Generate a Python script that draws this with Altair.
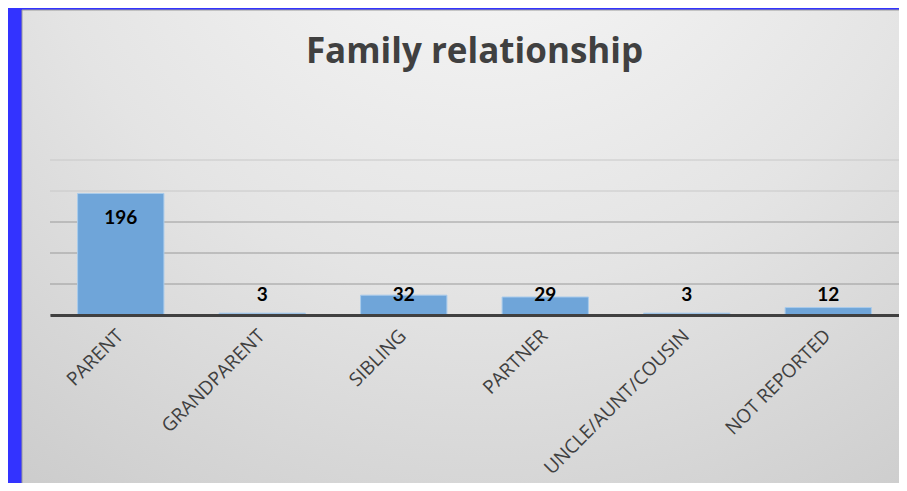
import altair as alt
import pandas as pd

categories = ["PARENT", "GRANDPARENT", "SIBLING", "PARTNER", "UNCLE/AUNT/COUSIN", "NOT REPORTED"]
values = [196, 3, 32, 29, 3, 12]
y_ticks = [0, 50, 100, 150, 200, 250]

df = pd.DataFrame({"category": categories, "value": values})
grid_df = pd.DataFrame({"v": y_ticks})

y_scale = alt.Scale(domain=[0, 250])

panel = alt.Chart(pd.DataFrame({"p": [0]})).mark_rect(
    fill=alt.Gradient(
        gradient="radial",
        stops=[
            alt.GradientStop(color="#fbfbfb", offset=0),
            alt.GradientStop(color="#e4e4e4", offset=0.5),
            alt.GradientStop(color="#c4c4c4", offset=1),
        ],
        x1=0.5, y1=0.0, r1=0.0, x2=0.5, y2=0.0, r2=1.0,
    ),
    stroke="#9a9a9a",
    strokeWidth=1,
).encode(
    x=alt.value(-28), x2=alt.value(900), y=alt.value(-150), y2=alt.value(400)
)

grid = alt.Chart(grid_df).mark_rule(strokeWidth=1).encode(
    y=alt.Y("v:Q", scale=y_scale, axis=None),
    color=alt.condition("datum.v >= 200", alt.value("#c8c8c8"), alt.value("#9a9a9a")),
)

bars = alt.Chart(df).mark_bar(
    color="#6fa5d9", stroke="#a9cbeb", strokeWidth=1
).encode(
    x=alt.X(
        "category:N",
        sort=categories,
        title=None,
        scale=alt.Scale(paddingInner=0.39, paddingOuter=0.195),
        axis=alt.Axis(
            labelAngle=-45,
            labelAlign="right",
            labelBaseline="top",
            labelFont="Open Sans",
            labelFontSize=19,
            labelColor="#404040",
            labelPadding=11,
            labelOffset=-7,
            labelLimit=400,
            ticks=False,
            domain=True,
            domainColor="#404040",
            domainWidth=3,
            grid=False,
            zindex=1,
        ),
    ),
    y=alt.Y("value:Q", scale=y_scale, title=None, axis=None),
)

labels = alt.Chart(df).transform_calculate(
    lab="datum.value > 100 ? datum.value - 40 : 32"
).mark_text(
    font="Lato", fontSize=19, fontWeight="bold", color="#000000", baseline="middle"
).encode(
    x=alt.X("category:N", sort=categories),
    y=alt.Y("lab:Q", scale=y_scale),
    text="value:Q",
)

chart = alt.layer(panel, grid, bars, labels).properties(
    width=849,
    height=155,
    autosize=alt.AutoSizeParams(type="none"),
    padding={"left": 42, "top": 152, "right": 0, "bottom": 168},
    background="#3333ff",
    title=alt.TitleParams(
        "Family relationship",
        font="Open Sans",
        fontSize=35,
        fontWeight="bold",
        color="#404040",
        anchor="middle",
        frame="group",
        baseline="alphabetic",
        offset=0,
        dy=88,
    ),
).configure_view(stroke=None)

chart.save("out.html", embed_options={"renderer": "svg", "actions": False})
